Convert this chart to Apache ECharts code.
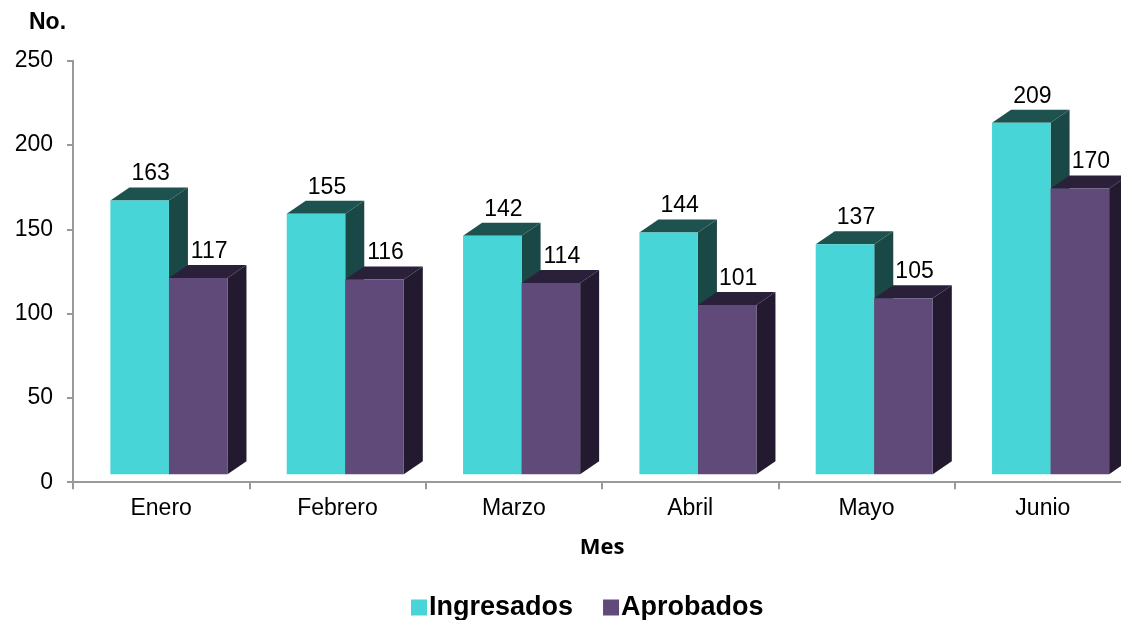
<!DOCTYPE html>
<html>
<head>
<meta charset="utf-8">
<script src="https://cdn.jsdelivr.net/npm/echarts@6/dist/echarts.min.js"></script>
<style>
  html, body { margin: 0; padding: 0; background: #fff; }
  #chart { width: 1121px; height: 620px; }
</style>
</head>
<body>
<div id="chart"></div>
<script>
var myChart = echarts.init(document.getElementById('chart'));

// datos
var meses = ['Enero', 'Febrero', 'Marzo', 'Abril', 'Mayo', 'Junio'];
var ingresados = [163, 155, 142, 144, 137, 209];
var aprobados = [117, 116, 114, 101, 105, 170];
var yTicks = [0, 50, 100, 150, 200, 250];

var FONT = "'Liberation Sans', Arial, sans-serif";

// colores: frente, tapa, lado
var colIng = { front: '#47D5D7', top: '#1E524F', side: '#1A4846' };
var colApr = { front: '#5F4A79', top: '#2B203A', side: '#231A2F' };

// barra con efecto 3D (como en Excel)
function makeRender(slot, col) {
    return function (params, api) {
        var idx = api.value(0);
        var val = api.value(1);
        var base = api.coord([idx, 0]);
        var top = api.coord([idx, val]);
        var band = api.size([1, 0])[0];
        var barW = band * 0.332;
        var x0 = base[0] - band * 0.288 + slot * barW;
        var topY = top[1] - 7;
        var bot = base[1] - 8;
        var dx = 19, dy = 13;
        return {
            type: 'group',
            children: [
                {
                    type: 'polygon',
                    shape: { points: [[x0 + barW, topY], [x0 + barW + dx, topY - dy], [x0 + barW + dx, bot - dy], [x0 + barW, bot]] },
                    style: { fill: col.side }
                },
                {
                    type: 'polygon',
                    shape: { points: [[x0, topY], [x0 + barW, topY], [x0 + barW + dx, topY - dy], [x0 + dx, topY - dy]] },
                    style: { fill: col.top }
                },
                {
                    type: 'rect',
                    shape: { x: x0, y: topY, width: barW, height: bot - topY },
                    style: { fill: col.front }
                },
                {
                    type: 'text',
                    x: x0 + barW / 2 + 11,
                    y: topY - dy - 2,
                    style: {
                        text: String(val),
                        fill: '#000',
                        font: '23px ' + FONT,
                        align: 'center',
                        verticalAlign: 'bottom'
                    }
                }
            ]
        };
    };
}

var option = {
    animation: false,
    grid: {
        left: 73,
        top: 60.7,
        bottom: 137.8,
        width: 1058,
        outerBoundsMode: 'none'
    },
    legend: {
        data: ['Ingresados', 'Aprobados'],
        top: 589,
        left: 406,
        itemWidth: 16,
        itemHeight: 16,
        itemGap: 30,
        icon: 'rect',
        textStyle: { fontFamily: FONT, fontSize: 27, fontWeight: 'bold', color: '#000', padding: [0, 0, 0, -3] }
    },
    graphic: [
        {
            type: 'text',
            left: 29,
            top: 11,
            style: { text: 'No.', font: 'bold 23px ' + FONT, fill: '#000' }
        }
    ],
    xAxis: {
        type: 'category',
        data: meses,
        name: 'Mes',
        nameLocation: 'middle',
        nameGap: 55,
        nameTextStyle: { fontFamily: "'Open Sans', sans-serif", fontWeight: 'bold', fontSize: 22, color: '#000' },
        axisLine: { lineStyle: { color: '#999', width: 2 } },
        axisTick: { show: true, length: 7, inside: false, lineStyle: { color: '#999', width: 2 } },
        axisLabel: { fontFamily: FONT, fontSize: 23, color: '#000', margin: 15 },
        splitLine: { show: false }
    },
    yAxis: {
        type: 'value',
        min: yTicks[0],
        max: yTicks[yTicks.length - 1],
        interval: 50,
        axisLine: { show: true, lineStyle: { color: '#999', width: 2 } },
        axisTick: { show: true, length: 6, lineStyle: { color: '#999', width: 2 } },
        axisLabel: { fontFamily: FONT, fontSize: 23, color: '#000', margin: 20 },
        splitLine: { show: false }
    },
    series: [
        {
            name: 'Ingresados',
            type: 'custom',
            color: colIng.front,
            itemStyle: { color: colIng.front },
            renderItem: makeRender(0, colIng),
            encode: { x: 0, y: 1 },
            data: ingresados.map(function (v, i) { return [i, v]; })
        },
        {
            name: 'Aprobados',
            type: 'custom',
            color: colApr.front,
            itemStyle: { color: colApr.front },
            renderItem: makeRender(1, colApr),
            encode: { x: 0, y: 1 },
            data: aprobados.map(function (v, i) { return [i, v]; })
        }
    ]
};

myChart.setOption(option);
</script>
</body>
</html>
